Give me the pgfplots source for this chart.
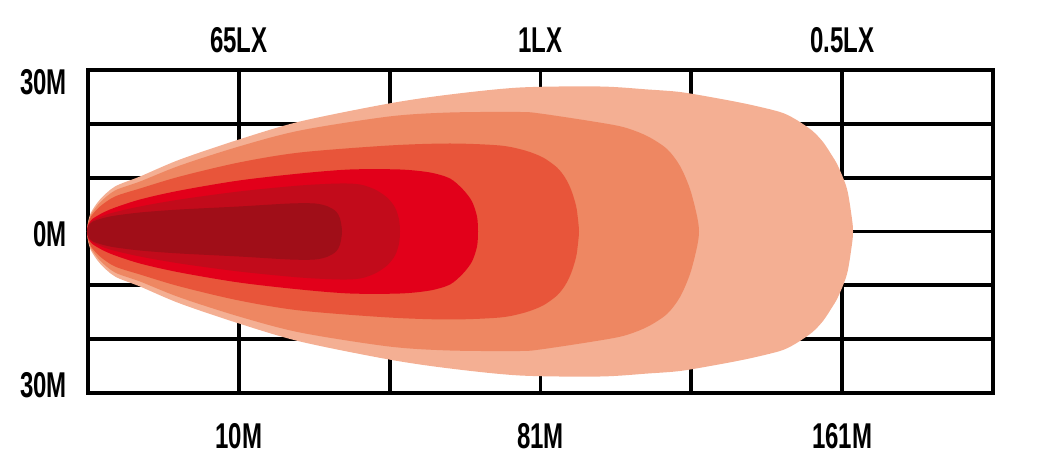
\documentclass[border=0pt]{standalone}
\usepackage{pgfplots}
\pgfplotsset{compat=1.18}
\usepackage{fontspec}
\newfontfamily\lab[FakeStretch=0.67]{Liberation Sans}
\definecolor{c1}{HTML}{F4AF93}
\definecolor{c2}{HTML}{EE8762}
\definecolor{c3}{HTML}{E8553A}
\definecolor{c4}{HTML}{E2001A}
\definecolor{c5}{HTML}{C20B1B}
\definecolor{c6}{HTML}{A00E18}
\tikzset{lbl/.style={font=\lab\bfseries\fontsize{36}{40}\selectfont, inner sep=0pt, text=black}}
\begin{document}
\begin{tikzpicture}
\path[use as bounding box] (-88bp,-66bp) rectangle (949bp,393bp);
\begin{axis}[
  scale only axis, width=905bp, height=323bp,
  anchor=south west, at={(0,0)},
  xmin=0, xmax=905, ymin=-161.5, ymax=161.5,
  xtick={0,150.833,301.667,452.5,603.333,754.167,905},
  ytick={-161.5,-107.667,-53.833,0,53.833,107.667,161.5},
  xticklabels={}, yticklabels={},
  grid=major,
  major grid style={line width=3.8bp, black},
  axis line style={line width=3.8bp, black},
  tick style={draw=none},
  clip=false,
]
% lightest
\addplot[fill=c1, draw=none, smooth] coordinates {
(-1,0)(0,9)(3,19)(12,32)(27,45)(52,55)(92,72)(151,92)(212,110)(301,128)(362,137)(432,144)(512,145)(560,142)(592,139.5)(625,134)(659,127.5)(692,119.5)(707,112.5)(724,101)(735,89.5)(743,77.5)(750,65.5)(759,42.5)(764,12.5)(765,0)
(764,-12.5)(759,-42.5)(750,-65.5)(743,-77.5)(735,-89.5)(724,-101)(707,-112.5)(692,-119.5)(659,-127.5)(625,-134)(592,-139.5)(560,-142)(512,-145)(432,-144)(362,-137)(301,-128)(212,-110)(151,-92)(92,-72)(52,-55)(27,-45)(12,-32)(3,-19)(0,-9)(-1,0)
} -- cycle;
% second
\addplot[fill=c2, draw=none, smooth] coordinates {
(-1,0)(0,8)(3,17)(12,29)(27,41)(52,50)(92,66)(151,85)(212,101)(301,115)(362,119)(432,119.5)(452,118)(502,110.5)(535,104.5)(559,95.5)(579,82.5)(592,65.5)(602,42.5)(609,15.5)(611,0)
(609,-15.5)(602,-42.5)(592,-65.5)(579,-82.5)(559,-95.5)(535,-104.5)(502,-110.5)(452,-118)(432,-119.5)(362,-119)(301,-115)(212,-101)(151,-85)(92,-66)(52,-50)(27,-41)(12,-29)(3,-17)(0,-8)(-1,0)
} -- cycle;
% third
\addplot[fill=c3, draw=none, smooth] coordinates {
(-1,0)(0,7)(3,15)(12,25)(27,35)(52,43)(92,55)(151,69)(212,79)(301,86)(362,88)(412,86)(437,81)(455,74)(469,64)(477,54)(483,42)(488,26)(490,12)(491,0)
(490,-12)(488,-26)(483,-42)(477,-54)(469,-64)(455,-74)(437,-81)(412,-86)(362,-88)(301,-86)(212,-79)(151,-69)(92,-55)(52,-43)(27,-35)(12,-25)(3,-15)(0,-7)(-1,0)
} -- cycle;
% fourth
\addplot[fill=c4, draw=none, smooth] coordinates {
(-1,0)(0,6)(5,13)(22,22)(52,32)(92,41)(151,51)(212,58)(262,62)(312,62)(342,59)(362,53)(375,42)(384,30)(389,15)(390,0)
(389,-15)(384,-30)(375,-42)(362,-53)(342,-59)(312,-62)(262,-62)(212,-58)(151,-51)(92,-41)(52,-32)(22,-22)(5,-13)(0,-6)(-1,0)
} -- cycle;
% fifth
\addplot[fill=c5, draw=none, smooth] coordinates {
(-1,0)(0,5)(5,11)(22,18)(52,25)(92,32)(151,40)(212,46)(252,48)(272,47)(287,42)(299,34)(307,24)(311,12)(312,0)
(311,-12)(307,-24)(299,-34)(287,-42)(272,-47)(252,-48)(212,-46)(151,-40)(92,-32)(52,-25)(22,-18)(5,-11)(0,-5)(-1,0)
} -- cycle;
% darkest
\addplot[fill=c6, draw=none, smooth] coordinates {
(-1,0)(0,5)(5,10)(22,15)(52,19)(92,22)(151,25)(202,28)(227,28)(240,25)(248,20)(252,13)(254,0)
(252,-13)(248,-20)(240,-25)(227,-28)(202,-28)(151,-25)(92,-22)(52,-19)(22,-15)(5,-10)(0,-5)(-1,0)
} -- cycle;
% labels
\node[lbl, anchor=base, yshift=17bp] at (axis cs:150.833,161.5) {65LX};
\node[lbl, anchor=base, yshift=17bp] at (axis cs:452.5,161.5) {1LX};
\node[lbl, anchor=base, yshift=17bp] at (axis cs:754.167,161.5) {0.5LX};
\node[lbl, anchor=base, yshift=-55bp] at (axis cs:150.833,-161.5) {10M};
\node[lbl, anchor=base, yshift=-55bp] at (axis cs:452.5,-161.5) {81M};
\node[lbl, anchor=base, yshift=-55bp] at (axis cs:754.167,-161.5) {161M};
\node[lbl, anchor=base east, xshift=-21bp, yshift=-25bp] at (axis cs:0,161.5) {30M};
\node[lbl, anchor=base east, xshift=-21bp, yshift=-15.5bp] at (axis cs:0,0) {0M};
\node[lbl, anchor=base east, xshift=-21bp, yshift=-4bp] at (axis cs:0,-161.5) {30M};
\end{axis}
\end{tikzpicture}
\end{document}
